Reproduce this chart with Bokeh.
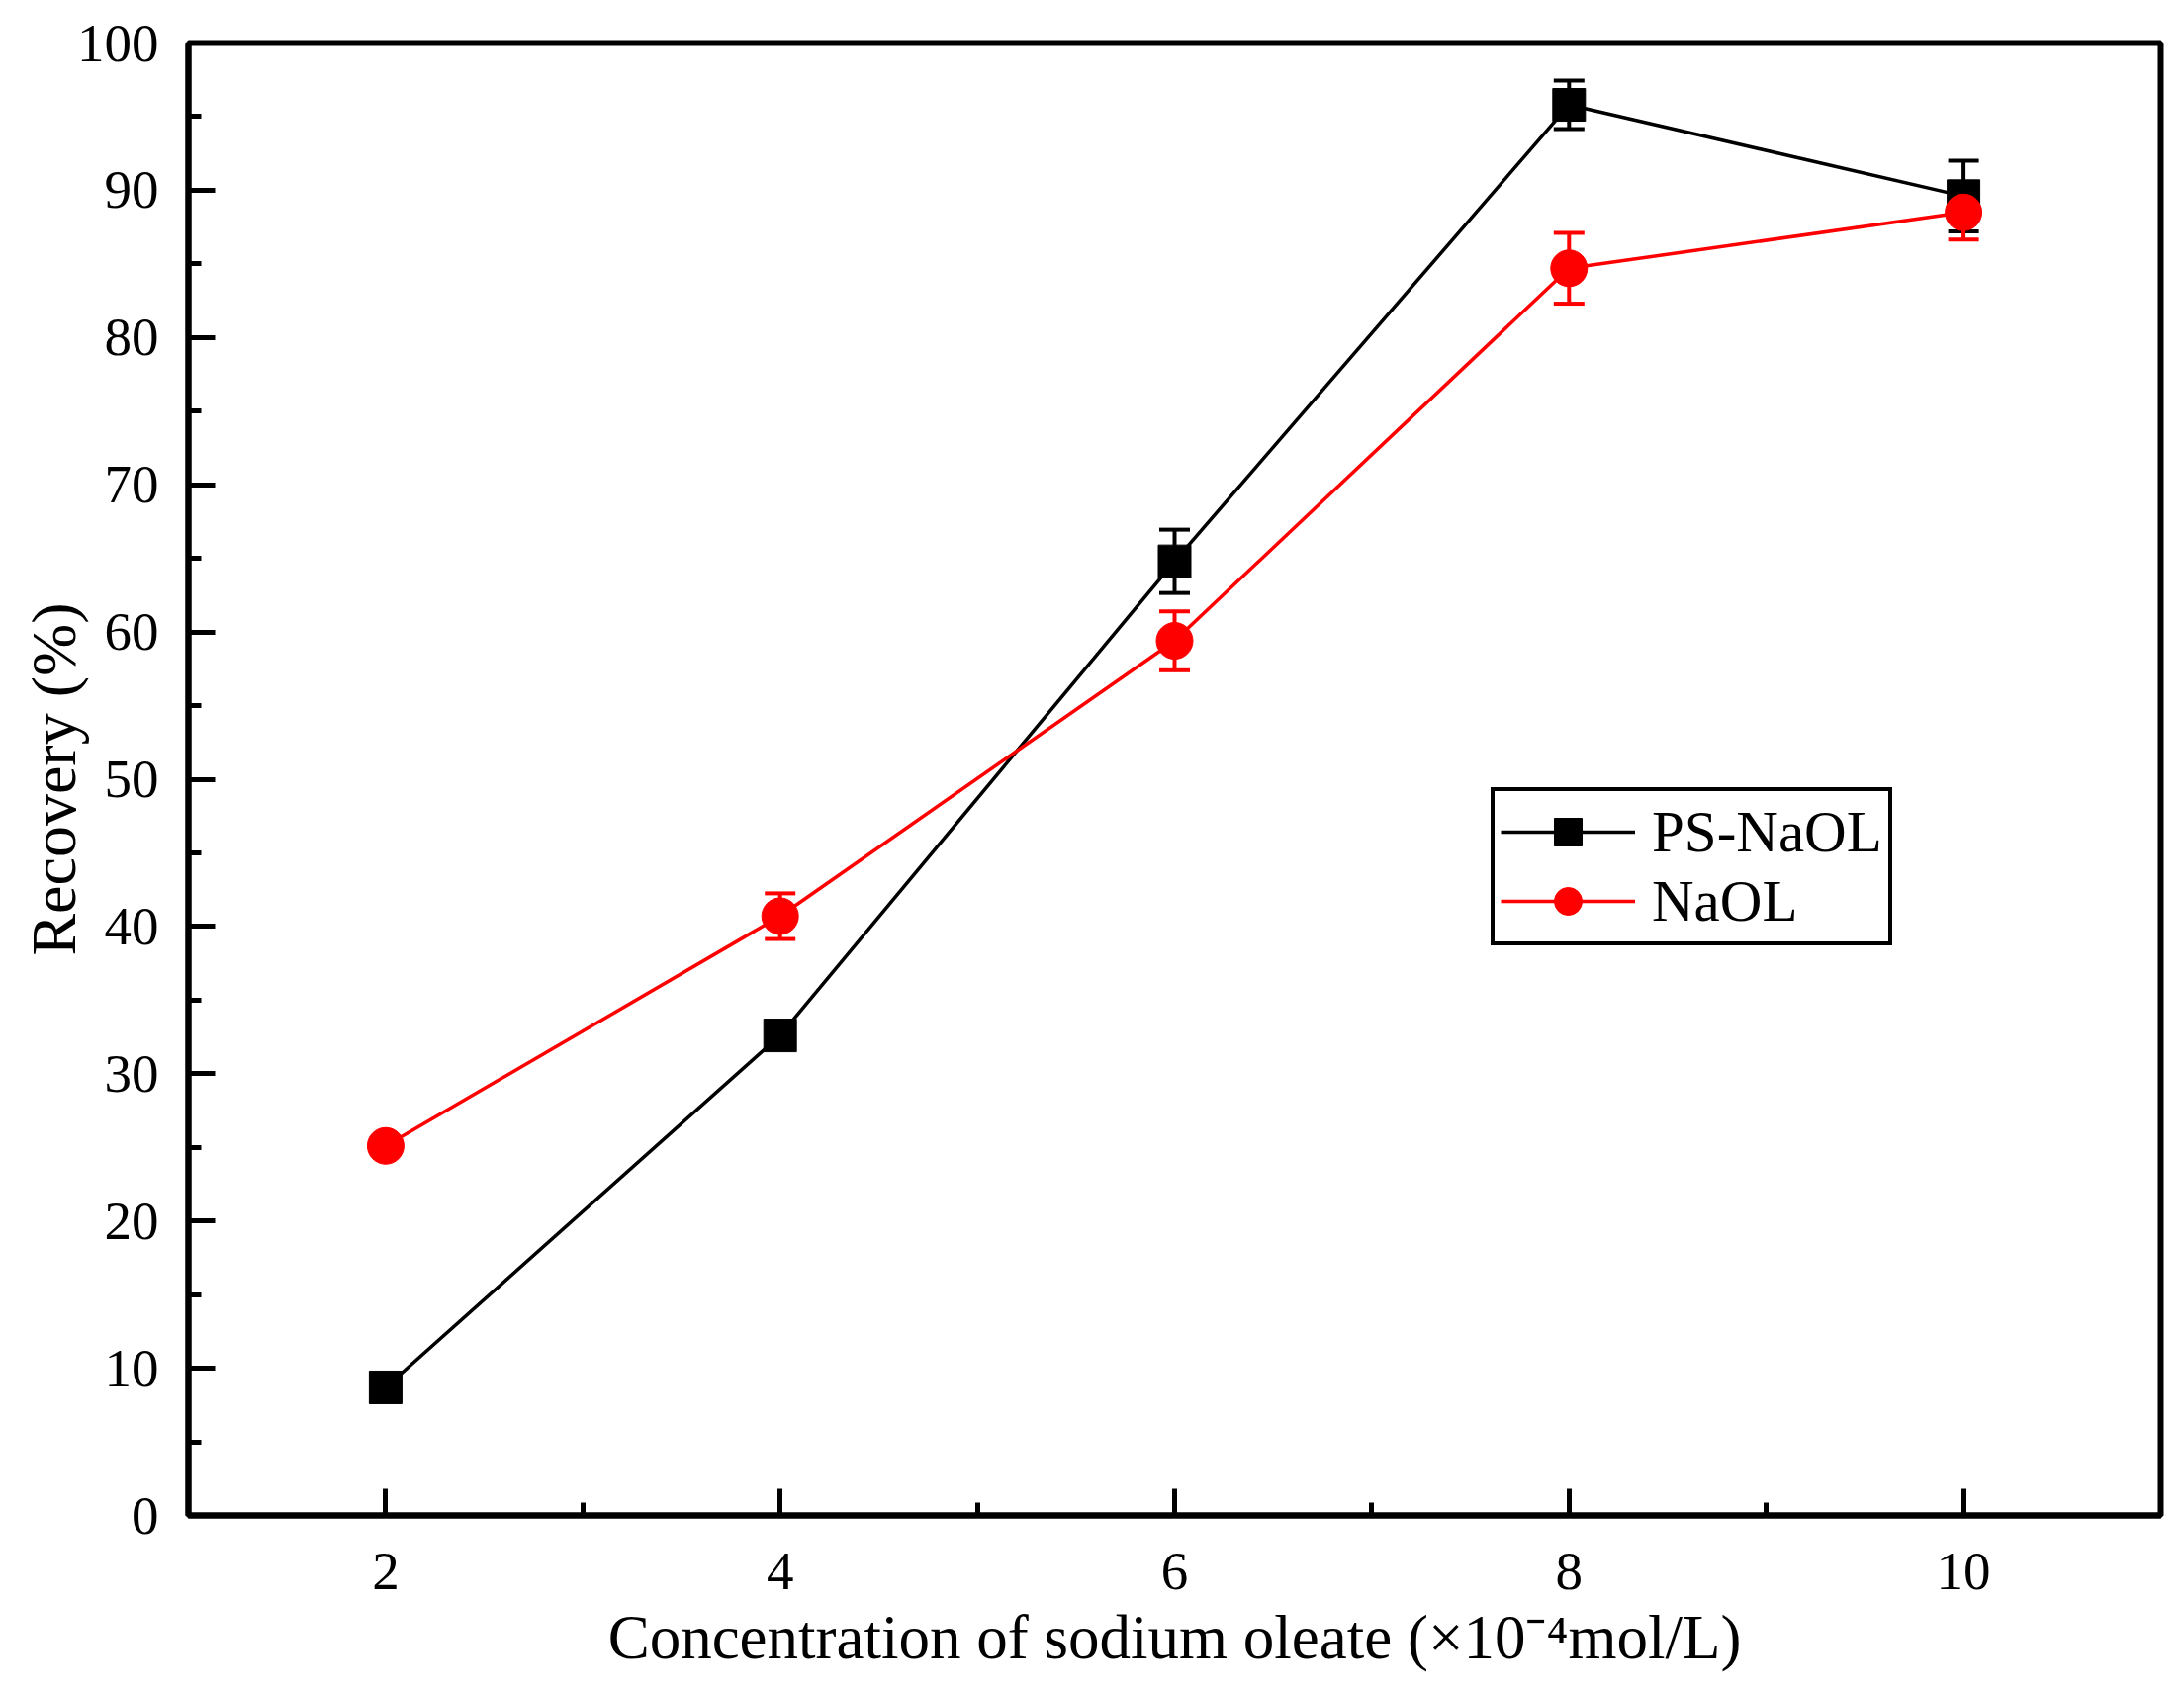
from bokeh.plotting import figure
from bokeh.models import (ColumnDataSource, FixedTicker, Whisker, TeeHead,
                          Legend, LegendItem, Range1d)
from bokeh.embed import file_html
from bokeh.resources import INLINE

# ---- data ----
concentration = [2, 4, 6, 8, 10]
ps_naol = [8.7, 32.6, 64.8, 95.8, 89.6]
ps_naol_err = [0.4, 0.8, 2.15, 1.65, 2.4]
naol = [25.1, 40.7, 59.4, 84.7, 88.5]
naol_err = [0.5, 1.55, 2.0, 2.4, 1.85]

x_ticks = [2, 4, 6, 8, 10]
x_minor = [3, 5, 7, 9]
y_ticks = [0, 10, 20, 30, 40, 50, 60, 70, 80, 90, 100]
y_minor = [5, 15, 25, 35, 45, 55, 65, 75, 85, 95]

FONT = "Liberation Serif"

src_ps = ColumnDataSource(dict(
    x=concentration, y=ps_naol,
    lo=[v - e for v, e in zip(ps_naol, ps_naol_err)],
    hi=[v + e for v, e in zip(ps_naol, ps_naol_err)]))
src_na = ColumnDataSource(dict(
    x=concentration, y=naol,
    lo=[v - e for v, e in zip(naol, naol_err)],
    hi=[v + e for v, e in zip(naol, naol_err)]))

p = figure(width=2192, height=1694,
           x_range=Range1d(1, 11), y_range=Range1d(0, 100),
           output_backend="svg", toolbar_location=None,
           min_border_left=190, min_border_right=8,
           min_border_top=43, min_border_bottom=162)
p.title.visible = False
p.grid.visible = False
p.background_fill_color = "white"
p.border_fill_color = "white"
p.outline_line_color = "black"
p.outline_line_width = 6
p.outline_line_alpha = 1.0

# series
l1 = p.line("x", "y", source=src_ps, line_color="black", line_width=3.5)
s1 = p.scatter("x", "y", source=src_ps, marker="square", size=33,
               fill_color="black", line_color="black")
l2 = p.line("x", "y", source=src_na, line_color="#ff0000", line_width=3.5)
s2 = p.scatter("x", "y", source=src_na, marker="circle", size=37,
               fill_color="#ff0000", line_color="#ff0000")

for src, col in ((src_ps, "black"), (src_na, "#ff0000")):
    w = Whisker(source=src, base="x", lower="lo", upper="hi",
                line_color=col, line_width=4,
                upper_head=TeeHead(size=31, line_color=col, line_width=4),
                lower_head=TeeHead(size=31, line_color=col, line_width=4))
    p.add_layout(w)

# axes
for ax in (p.xaxis[0], p.yaxis[0]):
    ax.axis_line_width = 6
    ax.axis_line_color = "black"
    ax.major_tick_in = 27
    ax.major_tick_out = 0
    ax.minor_tick_in = 13
    ax.minor_tick_out = 0
    ax.major_tick_line_width = 5
    ax.minor_tick_line_width = 5
    ax.major_tick_line_color = "black"
    ax.minor_tick_line_color = "black"
    ax.major_label_text_font = FONT
    ax.major_label_text_font_size = "55px"
    ax.major_label_text_color = "black"
    ax.axis_label_text_font = FONT
    ax.axis_label_text_font_style = "normal"
    ax.axis_label_text_color = "black"

p.xaxis.ticker = FixedTicker(ticks=x_ticks, minor_ticks=x_minor)
p.yaxis.ticker = FixedTicker(ticks=y_ticks, minor_ticks=y_minor)
p.xaxis.axis_label = "Concentration of sodium oleate (\u00d710\u207b\u2074mol/L)"
p.yaxis.axis_label = "Recovery (%)"
p.xaxis.axis_label_text_font_size = "63px"
p.yaxis.axis_label_text_font_size = "64px"
p.xaxis.major_label_standoff = 38
p.yaxis.major_label_standoff = 30
p.xaxis.axis_label_standoff = 11
p.yaxis.axis_label_standoff = -15

legend = Legend(items=[LegendItem(label="PS-NaOL", renderers=[l1, s1]),
                       LegendItem(label="NaOL", renderers=[l2, s2])],
                location=(1317, 576))
legend.margin = 0
legend.padding = 6
legend.spacing = 0
legend.glyph_width = 136
legend.glyph_height = 70
legend.label_height = 70
legend.label_standoff = 17
legend.label_text_font = FONT
legend.label_text_font_size = "59px"
legend.label_text_color = "black"
legend.border_line_color = "black"
legend.border_line_width = 4
legend.border_line_alpha = 1.0
legend.background_fill_color = "white"
legend.background_fill_alpha = 1.0
p.add_layout(legend)

open("out.html", "w").write(file_html(p, INLINE))
